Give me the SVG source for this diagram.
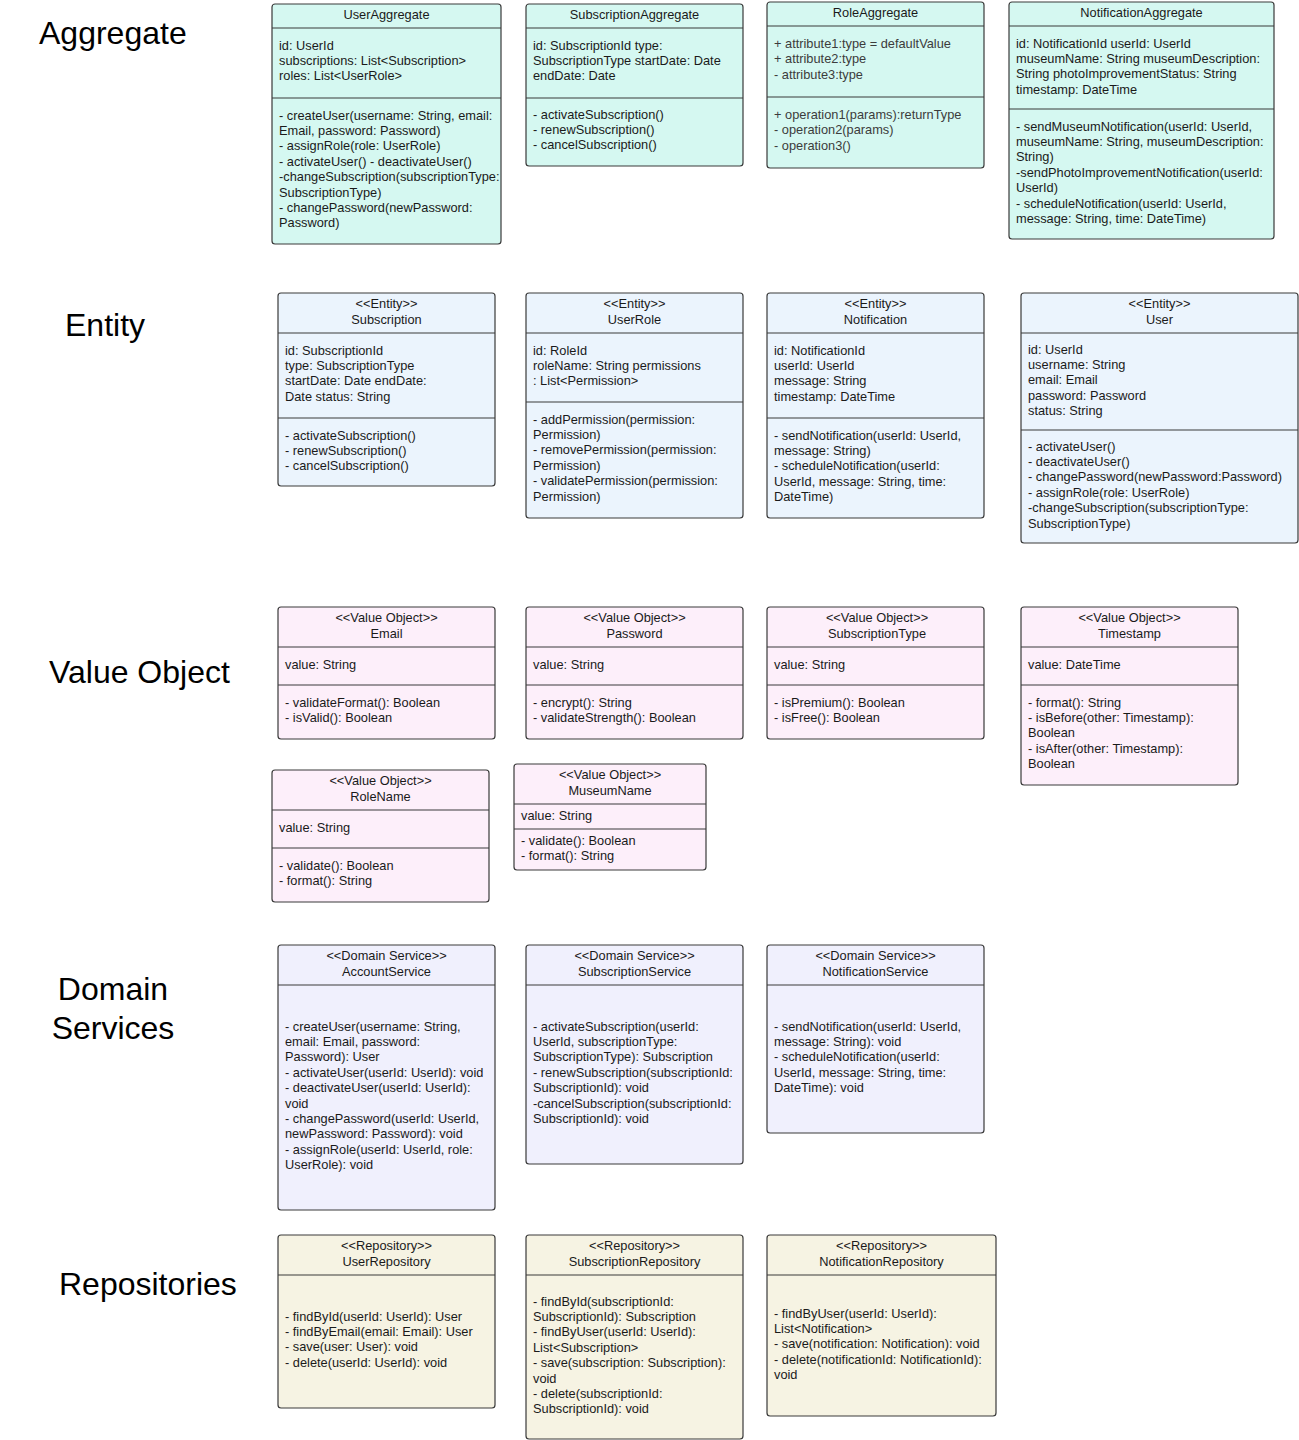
<svg xmlns="http://www.w3.org/2000/svg" width="1299" height="1440" viewBox="0 0 1299 1440">
<style>
.box{stroke:#3a3a3a;stroke-width:1.2}
.ln{stroke:#3a3a3a;stroke-width:1.2}
.agg{fill:#d5f8f1}
.ent{fill:#ebf4fd}
.vo{fill:#fdeffa}
.ds{fill:#f0f0fd}
.rep{fill:#f6f3e3}
.t{font-family:"Liberation Sans",Arial,sans-serif;font-size:12.8px;fill:#1a1a1a}
.c{text-anchor:middle}
.g{fill:#3c3c3c}
.lbl{font-family:"Liberation Sans",Arial,sans-serif;font-size:32px;fill:#000}
</style>
<rect width="1299" height="1440" fill="#fff"/>

<g id="labels">
<text class="lbl" x="39" y="44">Aggregate</text>
<text class="lbl" x="65" y="336">Entity</text>
<text class="lbl" x="49" y="683">Value Object</text>
<text class="lbl" x="113" y="1000" text-anchor="middle">Domain</text>
<text class="lbl" x="113" y="1039" text-anchor="middle">Services</text>
<text class="lbl" x="59" y="1295">Repositories</text>
</g>

<g id="connectors"></g>

<!-- Aggregates -->
<g id="UserAggregate">
<rect class="box agg" x="272" y="4" width="229" height="240" rx="3"/>
<line class="ln" x1="272" y1="28" x2="501" y2="28"/>
<line class="ln" x1="272" y1="98" x2="501" y2="98"/>
<text class="t c" x="386.5" y="18.5">UserAggregate</text>
<text class="t" x="279" y="49.5"><tspan x="279">id: UserId</tspan><tspan x="279" dy="15.4">subscriptions: List&lt;Subscription&gt;</tspan><tspan x="279" dy="15.4">roles: List&lt;UserRole&gt;</tspan></text>
<text class="t" x="279" y="119.5"><tspan x="279">- createUser(username: String, email:</tspan><tspan x="279" dy="15.4">Email, password: Password)</tspan><tspan x="279" dy="15.4">- assignRole(role: UserRole)</tspan><tspan x="279" dy="15.4">- activateUser() - deactivateUser()</tspan><tspan x="279" dy="15.4">-changeSubscription(subscriptionType:</tspan><tspan x="279" dy="15.4">SubscriptionType)</tspan><tspan x="279" dy="15.4">- changePassword(newPassword:</tspan><tspan x="279" dy="15.4">Password)</tspan></text>
</g>

<g id="SubscriptionAggregate">
<rect class="box agg" x="526" y="4" width="217" height="162" rx="3"/>
<line class="ln" x1="526" y1="28" x2="743" y2="28"/>
<line class="ln" x1="526" y1="98" x2="743" y2="98"/>
<text class="t c" x="634.5" y="18.5">SubscriptionAggregate</text>
<text class="t" x="533" y="49.5"><tspan x="533">id: SubscriptionId type:</tspan><tspan x="533" dy="15.4">SubscriptionType startDate: Date</tspan><tspan x="533" dy="15.4">endDate: Date</tspan></text>
<text class="t" x="533" y="118.5"><tspan x="533">- activateSubscription()</tspan><tspan x="533" dy="15.4">- renewSubscription()</tspan><tspan x="533" dy="15.4">- cancelSubscription()</tspan></text>
</g>

<g id="RoleAggregate">
<rect class="box agg" x="767" y="2" width="217" height="166" rx="3"/>
<line class="ln" x1="767" y1="26" x2="984" y2="26"/>
<line class="ln" x1="767" y1="97" x2="984" y2="97"/>
<text class="t c" x="875.5" y="16.5">RoleAggregate</text>
<text class="t g" x="774" y="47.5"><tspan x="774">+ attribute1:type = defaultValue</tspan><tspan x="774" dy="15.9">+ attribute2:type</tspan><tspan x="774" dy="15.9">- attribute3:type</tspan></text>
<text class="t g" x="774" y="118.5"><tspan x="774">+ operation1(params):returnType</tspan><tspan x="774" dy="15.9">- operation2(params)</tspan><tspan x="774" dy="15.9">- operation3()</tspan></text>
</g>

<g id="NotificationAggregate">
<rect class="box agg" x="1009" y="2" width="265" height="237" rx="3"/>
<line class="ln" x1="1009" y1="26" x2="1274" y2="26"/>
<line class="ln" x1="1009" y1="109" x2="1274" y2="109"/>
<text class="t c" x="1141.5" y="16.5">NotificationAggregate</text>
<text class="t" x="1016" y="47.5"><tspan x="1016">id: NotificationId userId: UserId</tspan><tspan x="1016" dy="15.4">museumName: String museumDescription:</tspan><tspan x="1016" dy="15.4">String photoImprovementStatus: String</tspan><tspan x="1016" dy="15.4">timestamp: DateTime</tspan></text>
<text class="t" x="1016" y="130.5"><tspan x="1016">- sendMuseumNotification(userId: UserId,</tspan><tspan x="1016" dy="15.4">museumName: String, museumDescription:</tspan><tspan x="1016" dy="15.4">String)</tspan><tspan x="1016" dy="15.4">-sendPhotoImprovementNotification(userId:</tspan><tspan x="1016" dy="15.4">UserId)</tspan><tspan x="1016" dy="15.4">- scheduleNotification(userId: UserId,</tspan><tspan x="1016" dy="15.4">message: String, time: DateTime)</tspan></text>
</g>

<!-- Entities -->
<g id="Subscription">
<rect class="box ent" x="278" y="293" width="217" height="193" rx="3"/>
<line class="ln" x1="278" y1="333" x2="495" y2="333"/>
<line class="ln" x1="278" y1="418" x2="495" y2="418"/>
<text class="t c" x="386.5" y="307.5">&lt;&lt;Entity&gt;&gt;</text>
<text class="t c" x="386.5" y="323.5">Subscription</text>
<text class="t" x="285" y="354.5"><tspan x="285">id: SubscriptionId</tspan><tspan x="285" dy="15.4">type: SubscriptionType</tspan><tspan x="285" dy="15.4">startDate: Date endDate:</tspan><tspan x="285" dy="15.4">Date status: String</tspan></text>
<text class="t" x="285" y="439.5"><tspan x="285">- activateSubscription()</tspan><tspan x="285" dy="15.4">- renewSubscription()</tspan><tspan x="285" dy="15.4">- cancelSubscription()</tspan></text>
</g>

<g id="UserRole">
<rect class="box ent" x="526" y="293" width="217" height="225" rx="3"/>
<line class="ln" x1="526" y1="333" x2="743" y2="333"/>
<line class="ln" x1="526" y1="402" x2="743" y2="402"/>
<text class="t c" x="634.5" y="307.5">&lt;&lt;Entity&gt;&gt;</text>
<text class="t c" x="634.5" y="323.5">UserRole</text>
<text class="t" x="533" y="354.5"><tspan x="533">id: RoleId</tspan><tspan x="533" dy="15.4">roleName: String permissions</tspan><tspan x="533" dy="15.4">: List&lt;Permission&gt;</tspan></text>
<text class="t" x="533" y="423.5"><tspan x="533">- addPermission(permission:</tspan><tspan x="533" dy="15.4">Permission)</tspan><tspan x="533" dy="15.4">- removePermission(permission:</tspan><tspan x="533" dy="15.4">Permission)</tspan><tspan x="533" dy="15.4">- validatePermission(permission:</tspan><tspan x="533" dy="15.4">Permission)</tspan></text>
</g>

<g id="Notification">
<rect class="box ent" x="767" y="293" width="217" height="225" rx="3"/>
<line class="ln" x1="767" y1="333" x2="984" y2="333"/>
<line class="ln" x1="767" y1="418" x2="984" y2="418"/>
<text class="t c" x="875.5" y="307.5">&lt;&lt;Entity&gt;&gt;</text>
<text class="t c" x="875.5" y="323.5">Notification</text>
<text class="t" x="774" y="354.5"><tspan x="774">id: NotificationId</tspan><tspan x="774" dy="15.4">userId: UserId</tspan><tspan x="774" dy="15.4">message: String</tspan><tspan x="774" dy="15.4">timestamp: DateTime</tspan></text>
<text class="t" x="774" y="439.5"><tspan x="774">- sendNotification(userId: UserId,</tspan><tspan x="774" dy="15.4">message: String)</tspan><tspan x="774" dy="15.4">- scheduleNotification(userId:</tspan><tspan x="774" dy="15.4">UserId, message: String, time:</tspan><tspan x="774" dy="15.4">DateTime)</tspan></text>
</g>

<g id="User">
<rect class="box ent" x="1021" y="293" width="277" height="250" rx="3"/>
<line class="ln" x1="1021" y1="333" x2="1298" y2="333"/>
<line class="ln" x1="1021" y1="430" x2="1298" y2="430"/>
<text class="t c" x="1159.5" y="307.5">&lt;&lt;Entity&gt;&gt;</text>
<text class="t c" x="1159.5" y="323.5">User</text>
<text class="t" x="1028" y="353.5"><tspan x="1028">id: UserId</tspan><tspan x="1028" dy="15.4">username: String</tspan><tspan x="1028" dy="15.4">email: Email</tspan><tspan x="1028" dy="15.4">password: Password</tspan><tspan x="1028" dy="15.4">status: String</tspan></text>
<text class="t" x="1028" y="450.5"><tspan x="1028">- activateUser()</tspan><tspan x="1028" dy="15.4">- deactivateUser()</tspan><tspan x="1028" dy="15.4">- changePassword(newPassword:Password)</tspan><tspan x="1028" dy="15.4">- assignRole(role: UserRole)</tspan><tspan x="1028" dy="15.4">-changeSubscription(subscriptionType:</tspan><tspan x="1028" dy="15.4">SubscriptionType)</tspan></text>
</g>

<!-- Value Objects -->
<g id="Email">
<rect class="box vo" x="278" y="607" width="217" height="132" rx="3"/>
<line class="ln" x1="278" y1="647" x2="495" y2="647"/>
<line class="ln" x1="278" y1="685" x2="495" y2="685"/>
<text class="t c" x="386.5" y="621.5">&lt;&lt;Value Object&gt;&gt;</text>
<text class="t c" x="386.5" y="637.5">Email</text>
<text class="t" x="285" y="668.5">value: String</text>
<text class="t" x="285" y="706.5"><tspan x="285">- validateFormat(): Boolean</tspan><tspan x="285" dy="15.4">- isValid(): Boolean</tspan></text>
</g>

<g id="Password">
<rect class="box vo" x="526" y="607" width="217" height="132" rx="3"/>
<line class="ln" x1="526" y1="647" x2="743" y2="647"/>
<line class="ln" x1="526" y1="685" x2="743" y2="685"/>
<text class="t c" x="634.5" y="621.5">&lt;&lt;Value Object&gt;&gt;</text>
<text class="t c" x="634.5" y="637.5">Password</text>
<text class="t" x="533" y="668.5">value: String</text>
<text class="t" x="533" y="706.5"><tspan x="533">- encrypt(): String</tspan><tspan x="533" dy="15.4">- validateStrength(): Boolean</tspan></text>
</g>

<g id="SubscriptionType">
<rect class="box vo" x="767" y="607" width="217" height="132" rx="3"/>
<line class="ln" x1="767" y1="647" x2="984" y2="647"/>
<line class="ln" x1="767" y1="685" x2="984" y2="685"/>
<text class="t c" x="877" y="621.5">&lt;&lt;Value Object&gt;&gt;</text>
<text class="t c" x="877" y="637.5">SubscriptionType</text>
<text class="t" x="774" y="668.5">value: String</text>
<text class="t" x="774" y="706.5"><tspan x="774">- isPremium(): Boolean</tspan><tspan x="774" dy="15.4">- isFree(): Boolean</tspan></text>
</g>

<g id="Timestamp">
<rect class="box vo" x="1021" y="607" width="217" height="178" rx="3"/>
<line class="ln" x1="1021" y1="647" x2="1238" y2="647"/>
<line class="ln" x1="1021" y1="685" x2="1238" y2="685"/>
<text class="t c" x="1129.5" y="621.5">&lt;&lt;Value Object&gt;&gt;</text>
<text class="t c" x="1129.5" y="637.5">Timestamp</text>
<text class="t" x="1028" y="668.5">value: DateTime</text>
<text class="t" x="1028" y="706.5"><tspan x="1028">- format(): String</tspan><tspan x="1028" dy="15.4">- isBefore(other: Timestamp):</tspan><tspan x="1028" dy="15.4">Boolean</tspan><tspan x="1028" dy="15.4">- isAfter(other: Timestamp):</tspan><tspan x="1028" dy="15.4">Boolean</tspan></text>
</g>

<g id="RoleName">
<rect class="box vo" x="272" y="770" width="217" height="132" rx="3"/>
<line class="ln" x1="272" y1="810" x2="489" y2="810"/>
<line class="ln" x1="272" y1="848" x2="489" y2="848"/>
<text class="t c" x="380.5" y="784.5">&lt;&lt;Value Object&gt;&gt;</text>
<text class="t c" x="380.5" y="800.5">RoleName</text>
<text class="t" x="279" y="831.5">value: String</text>
<text class="t" x="279" y="869.5"><tspan x="279">- validate(): Boolean</tspan><tspan x="279" dy="15.4">- format(): String</tspan></text>
</g>

<g id="MuseumName">
<rect class="box vo" x="514" y="764" width="192" height="106" rx="3"/>
<line class="ln" x1="514" y1="804" x2="706" y2="804"/>
<line class="ln" x1="514" y1="829" x2="706" y2="829"/>
<text class="t c" x="610" y="778.5">&lt;&lt;Value Object&gt;&gt;</text>
<text class="t c" x="610" y="794.5">MuseumName</text>
<text class="t" x="521" y="819.5">value: String</text>
<text class="t" x="521" y="844.5"><tspan x="521">- validate(): Boolean</tspan><tspan x="521" dy="15.4">- format(): String</tspan></text>
</g>

<!-- Domain Services -->
<g id="AccountService">
<rect class="box ds" x="278" y="945" width="217" height="265" rx="3"/>
<line class="ln" x1="278" y1="985" x2="495" y2="985"/>
<text class="t c" x="386.5" y="959.5">&lt;&lt;Domain Service&gt;&gt;</text>
<text class="t c" x="386.5" y="975.5">AccountService</text>
<text class="t" x="285" y="1030.5"><tspan x="285">- createUser(username: String,</tspan><tspan x="285" dy="15.4">email: Email, password:</tspan><tspan x="285" dy="15.4">Password): User</tspan><tspan x="285" dy="15.4">- activateUser(userId: UserId): void</tspan><tspan x="285" dy="15.4">- deactivateUser(userId: UserId):</tspan><tspan x="285" dy="15.4">void</tspan><tspan x="285" dy="15.4">- changePassword(userId: UserId,</tspan><tspan x="285" dy="15.4">newPassword: Password): void</tspan><tspan x="285" dy="15.4">- assignRole(userId: UserId, role:</tspan><tspan x="285" dy="15.4">UserRole): void</tspan></text>
</g>

<g id="SubscriptionService">
<rect class="box ds" x="526" y="945" width="217" height="219" rx="3"/>
<line class="ln" x1="526" y1="985" x2="743" y2="985"/>
<text class="t c" x="634.5" y="959.5">&lt;&lt;Domain Service&gt;&gt;</text>
<text class="t c" x="634.5" y="975.5">SubscriptionService</text>
<text class="t" x="533" y="1030.5"><tspan x="533">- activateSubscription(userId:</tspan><tspan x="533" dy="15.4">UserId, subscriptionType:</tspan><tspan x="533" dy="15.4">SubscriptionType): Subscription</tspan><tspan x="533" dy="15.4">- renewSubscription(subscriptionId:</tspan><tspan x="533" dy="15.4">SubscriptionId): void</tspan><tspan x="533" dy="15.4">-cancelSubscription(subscriptionId:</tspan><tspan x="533" dy="15.4">SubscriptionId): void</tspan></text>
</g>

<g id="NotificationService">
<rect class="box ds" x="767" y="945" width="217" height="188" rx="3"/>
<line class="ln" x1="767" y1="985" x2="984" y2="985"/>
<text class="t c" x="875.5" y="959.5">&lt;&lt;Domain Service&gt;&gt;</text>
<text class="t c" x="875.5" y="975.5">NotificationService</text>
<text class="t" x="774" y="1030.5"><tspan x="774">- sendNotification(userId: UserId,</tspan><tspan x="774" dy="15.4">message: String): void</tspan><tspan x="774" dy="15.4">- scheduleNotification(userId:</tspan><tspan x="774" dy="15.4">UserId, message: String, time:</tspan><tspan x="774" dy="15.4">DateTime): void</tspan></text>
</g>

<!-- Repositories -->
<g id="UserRepository">
<rect class="box rep" x="278" y="1235" width="217" height="173" rx="3"/>
<line class="ln" x1="278" y1="1275" x2="495" y2="1275"/>
<text class="t c" x="386.5" y="1249.5">&lt;&lt;Repository&gt;&gt;</text>
<text class="t c" x="386.5" y="1265.5">UserRepository</text>
<text class="t" x="285" y="1320.5"><tspan x="285">- findById(userId: UserId): User</tspan><tspan x="285" dy="15.4">- findByEmail(email: Email): User</tspan><tspan x="285" dy="15.4">- save(user: User): void</tspan><tspan x="285" dy="15.4">- delete(userId: UserId): void</tspan></text>
</g>

<g id="SubscriptionRepository">
<rect class="box rep" x="526" y="1235" width="217" height="204" rx="3"/>
<line class="ln" x1="526" y1="1275" x2="743" y2="1275"/>
<text class="t c" x="634.5" y="1249.5">&lt;&lt;Repository&gt;&gt;</text>
<text class="t c" x="634.5" y="1265.5">SubscriptionRepository</text>
<text class="t" x="533" y="1305.5"><tspan x="533">- findById(subscriptionId:</tspan><tspan x="533" dy="15.4">SubscriptionId): Subscription</tspan><tspan x="533" dy="15.4">- findByUser(userId: UserId):</tspan><tspan x="533" dy="15.4">List&lt;Subscription&gt;</tspan><tspan x="533" dy="15.4">- save(subscription: Subscription):</tspan><tspan x="533" dy="15.4">void</tspan><tspan x="533" dy="15.4">- delete(subscriptionId:</tspan><tspan x="533" dy="15.4">SubscriptionId): void</tspan></text>
</g>

<g id="NotificationRepository">
<rect class="box rep" x="767" y="1235" width="229" height="181" rx="3"/>
<line class="ln" x1="767" y1="1275" x2="996" y2="1275"/>
<text class="t c" x="881.5" y="1249.5">&lt;&lt;Repository&gt;&gt;</text>
<text class="t c" x="881.5" y="1265.5">NotificationRepository</text>
<text class="t" x="774" y="1317.5"><tspan x="774">- findByUser(userId: UserId):</tspan><tspan x="774" dy="15.4">List&lt;Notification&gt;</tspan><tspan x="774" dy="15.4">- save(notification: Notification): void</tspan><tspan x="774" dy="15.4">- delete(notificationId: NotificationId):</tspan><tspan x="774" dy="15.4">void</tspan></text>
</g>
</svg>
